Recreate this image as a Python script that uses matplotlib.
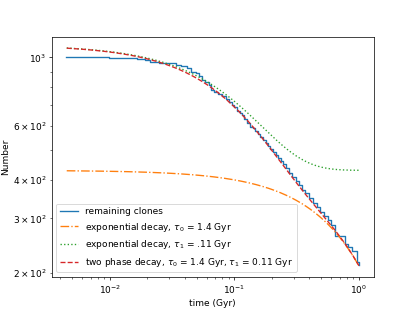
import numpy as np
import matplotlib
matplotlib.use("Agg")
import matplotlib.pyplot as plt

# remaining clones, step function: count holds from each time
clone_time = [0.00448, 0.0098, 0.0165, 0.019, 0.021, 0.025, 0.029, 0.034, 0.037,
              0.042, 0.045, 0.049, 0.052, 0.055, 0.058, 0.062, 0.065, 0.068,
              0.074, 0.079, 0.085, 0.090, 0.095, 0.100, 0.105, 0.110, 0.115,
              0.120, 0.127, 0.134, 0.140, 0.147, 0.155, 0.162, 0.170, 0.178,
              0.186, 0.195, 0.205, 0.215, 0.225, 0.235, 0.245, 0.260, 0.275,
              0.290, 0.310, 0.330, 0.350, 0.370, 0.400, 0.430, 0.460, 0.490,
              0.520, 0.560, 0.600, 0.640, 0.780, 0.820, 0.880, 0.960, 1.000]
clone_count = [1000, 997, 992, 980, 968, 962, 956, 948, 935,
               922, 900, 888, 868, 848, 830, 815, 785, 772,
               762, 748, 733, 718, 702, 690, 672, 660, 648,
               630, 612, 595, 588, 578, 565, 552, 540, 528,
               516, 505, 492, 482, 470, 460, 450, 436, 422,
               410, 398, 385, 372, 362, 350, 338, 327, 316,
               306, 296, 286, 263, 248, 242, 236, 216, 212]

# model parameters (taus from legend, amplitudes / fitted shape)
tau0 = 1.4
tau1 = 0.12
amp0 = 430.0
amp1 = 668.0
t_start = 0.0045
t_end = 1.0

t = np.geomspace(t_start, t_end, 400)
exp0 = amp0 * np.exp(-t / tau0)
exp1 = amp0 + amp1 * np.exp(-t / tau1)
two_phase = amp0 * np.exp(-t / tau0) + amp1 * np.exp(-t / tau1)

fig, ax = plt.subplots(figsize=(6.4, 4.8), dpi=415 / 6.4)
ax.plot(clone_time, clone_count, color='C0', drawstyle='steps-post', label='remaining clones')
ax.plot(t, exp0, color='C1', linestyle='-.', label=r'exponential decay, $\tau_0$ = 1.4 Gyr')
ax.plot(t, exp1, color='C2', linestyle=':', label=r'exponential decay, $\tau_1$ = .11 Gyr')
ax.plot(t, two_phase, color='C3', linestyle='--',
        label=r'two phase decay, $\tau_0$ = 1.4 Gyr, $\tau_1$ = 0.11 Gyr')
ax.set_xscale('log')
ax.set_yscale('log')
ax.set_xlabel('time (Gyr)')
ax.set_ylabel('Number')
ax.legend(loc='lower left')
fig.savefig('out.png', dpi=415 / 6.4)
